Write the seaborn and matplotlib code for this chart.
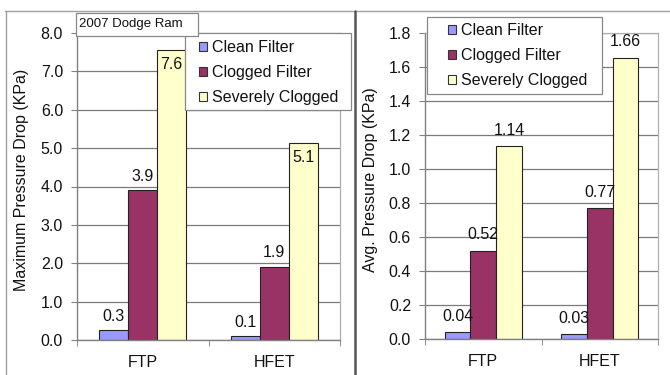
import numpy as np
import pandas as pd
import matplotlib
matplotlib.use('Agg')
import matplotlib.pyplot as plt
import seaborn as sns
from matplotlib.patches import Rectangle
from matplotlib.lines import Line2D

cycles = ['FTP', 'HFET']
series = ['Clean Filter', 'Clogged Filter', 'Severely Clogged']
max_clean = [0.26, 0.10]
max_clogged = [3.91, 1.91]
max_severe = [7.56, 5.13]
avg_clean = [0.04, 0.03]
avg_clogged = [0.52, 0.77]
avg_severe = [1.135, 1.655]
left_ticks = [0.0, 1.0, 2.0, 3.0, 4.0, 5.0, 6.0, 7.0, 8.0]
right_ticks = [0.0, 0.2, 0.4, 0.6, 0.8, 1.0, 1.2, 1.4, 1.6, 1.8]
colors = ['#9999FF', '#993366', '#FFFFCC']

sns.set_style('white')
plt.rcParams['font.family'] = ['Liberation Sans', 'DejaVu Sans']

W, H = 670, 375
fig = plt.figure(figsize=(W / 100, H / 100), dpi=100)


def fx(px):
    return px / W


def fy(py):
    return 1 - py / H


def make_df(a, b, c):
    rows = []
    for s, vals in zip(series, [a, b, c]):
        for cyc, v in zip(cycles, vals):
            rows.append({'cycle': cyc, 'series': s, 'value': v})
    return pd.DataFrame(rows)


def draw(ax, df, ticks, fmt, above_pad, inside_series=()):
    sns.barplot(data=df, x='cycle', y='value', hue='series', order=cycles,
                hue_order=series, palette=colors, width=0.66, edgecolor='#222222',
                linewidth=0.8, ax=ax, saturation=1, errorbar=None)
    ax.set_ylim(ticks[0], ticks[-1])
    ax.set_xlim(-0.5, 1.5)
    ax.set_yticks(ticks)
    ax.set_yticklabels([f'{t:.1f}' for t in ticks])
    ax.set_xlabel('')
    ax.set_ylabel('')
    ax.grid(axis='y', color='#7a7a7a', linewidth=0.9)
    ax.set_axisbelow(True)
    for side in ['left', 'bottom']:
        ax.spines[side].set_color('#808080')
        ax.spines[side].set_linewidth(1.0)
    for side in ['top', 'right']:
        ax.spines[side].set_color('#b0b0b0')
        ax.spines[side].set_linewidth(0.9)
    ax.set_xticks([-0.5, 0.5, 1.5], minor=True)
    ax.tick_params(axis='x', which='minor', length=4, color='#808080', direction='out', bottom=True)
    ax.tick_params(axis='x', which='major', length=0, pad=11, labelsize=11.5, labelcolor='#111111')
    ax.tick_params(axis='y', which='major', length=4, color='#808080', direction='out', left=True,
                   pad=6, labelsize=11.5, labelcolor='#111111')
    for s, cont in zip(series, ax.containers):
        for bar in cont:
            h = bar.get_height()
            xc = bar.get_x() + bar.get_width() / 2
            if s in inside_series:
                ax.annotate(fmt.format(h), (xc, h), xytext=(0, -5), textcoords='offset points',
                            ha='center', va='top', fontsize=11.5, color='#111111')
            else:
                ax.annotate(fmt.format(h), (xc, h), xytext=(0, above_pad), textcoords='offset points',
                            ha='center', va='bottom', fontsize=11.5, color='#111111')
    if ax.get_legend() is not None:
        ax.get_legend().remove()


# Left panel
axL = fig.add_axes([fx(77), fy(340), fx(340 - 77), (340 - 33) / H])
draw(axL, make_df(max_clean, max_clogged, max_severe), left_ticks, '{:.1f}', 4.5,
     inside_series=('Severely Clogged',))

# Right panel
axR = fig.add_axes([fx(425), fy(339), fx(658 - 425), (339 - 33) / H])
draw(axR, make_df(avg_clean, avg_clogged, avg_severe), right_ticks, '{:.2f}', 6)

# Y labels
fig.text(fx(22), fy(180), 'Maximum Pressure Drop (KPa)', rotation=90, ha='center', va='center',
         fontsize=11.5, color='#111111')
fig.text(fx(370), fy(180), 'Avg. Pressure Drop (KPa)', rotation=90, ha='center', va='center',
         fontsize=11.5, color='#111111')

# Legends: frame box + frameless legend content
handles = [Rectangle((0, 0), 1, 1, facecolor=c, edgecolor='#333333', linewidth=0.8) for c in colors]
for (bx0, by0, bx1, by1, hx, hy) in [(185, 33, 351, 110, 199, 40), (427, 17, 602, 94, 448, 23)]:
    fig.add_artist(Rectangle((fx(bx0), fy(by1)), fx(bx1 - bx0), (by1 - by0) / H,
                             transform=fig.transFigure, facecolor='white',
                             edgecolor='#888888', linewidth=0.9, zorder=4))
    leg = fig.legend(handles, series, loc='upper left', bbox_to_anchor=(fx(hx), fy(hy)),
                     bbox_transform=fig.transFigure, borderaxespad=0, borderpad=0,
                     fontsize=11.5, handlelength=0.5, handleheight=0.5, handletextpad=0.3,
                     labelspacing=0.62, frameon=False)
    leg.set_zorder(5)
    for t in leg.get_texts():
        t.set_color('#111111')

# Panel frames
fig.add_artist(Line2D([fx(5), fx(670)], [fy(11), fy(11)], color='#a0a0a0', linewidth=1.0))
fig.add_artist(Line2D([fx(6), fx(6)], [fy(11), fy(375)], color='#a0a0a0', linewidth=1.0))
fig.add_artist(Line2D([fx(354.5), fx(354.5)], [fy(11), fy(375)], color='#555555', linewidth=1.8))

# Title box
fig.add_artist(Rectangle((fx(76), fy(36)), fx(198 - 76), (36 - 13) / H, transform=fig.transFigure,
                         facecolor='white', edgecolor='#888888', linewidth=0.9, zorder=6))
fig.text(fx(79), fy(24.5), '2007 Dodge Ram', ha='left', va='center', fontsize=9.5,
         color='#111111', zorder=7)

fig.savefig('out.png', dpi=100)
